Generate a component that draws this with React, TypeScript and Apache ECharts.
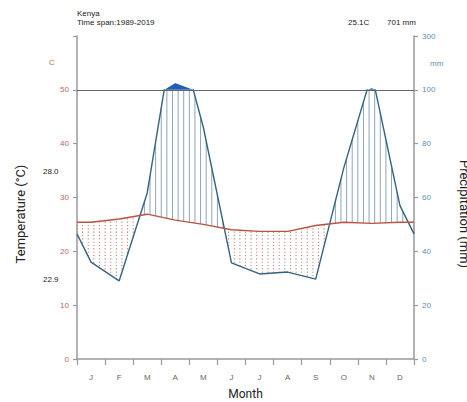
import React, { useEffect, useRef } from "react";
import * as echarts from "echarts";

const MONTHS = ["Jan", "Feb", "Mar", "Apr", "May", "Jun", "Jul", "Aug", "Sep", "Oct", "Nov", "Dec"];
const MONTH_LABELS = ["J", "F", "M", "A", "M", "J", "J", "A", "S", "O", "N", "D"];
const TEMP = [25.4, 26.0, 26.9, 25.8, 25.0, 24.0, 23.7, 23.7, 24.8, 25.4, 25.2, 25.4];
const PRECIP = [36, 29, 61.7, 125, 86, 35.7, 31.6, 32.3, 29.7, 71, 106, 57];
const HEADER_LINES = ["Kenya", "Time span:1989-2019"];
const MEAN_TEMP_LABEL = "25.1C";
const TOTAL_PRECIP_LABEL = "701 mm";
const MAX_TEMP_LABEL = "28.0";
const MIN_TEMP_LABEL = "22.9";

const FONT = "'Liberation Sans', Arial, sans-serif";
const TITLE_FONT = "Roboto, 'Open Sans', sans-serif";
const TEMP_COLOR = "#b85443";
const PRECIP_COLOR = "#34637f";
const HATCH_COLOR = "#8ea5b9";
const DOT_COLOR = "#c37a6c";
const WET_FILL = "#1f5fb4";
const AXIS_COLOR = "#9a9a9a";

const ext = (a: number[]) => {
  const e = (a[0] + a[a.length - 1]) / 2;
  return [e, ...a, e];
};
const XS = [0, ...MONTHS.map((_, i) => i + 0.5), MONTHS.length];
const TE = ext(TEMP);
const PE = ext(PRECIP);

function interp(arr: number[], x: number) {
  for (let i = 0; i < XS.length - 1; i++) {
    if (x >= XS[i] && x <= XS[i + 1]) {
      const f = (x - XS[i]) / (XS[i + 1] - XS[i]);
      return arr[i] + f * (arr[i + 1] - arr[i]);
    }
  }
  return arr[arr.length - 1];
}

export default function App() {
  const ref = useRef<HTMLDivElement>(null);
  useEffect(() => {
    if (!ref.current) return;
    const chart = echarts.init(ref.current, null, { renderer: "svg" });
    const gridTop = 36;
    const gridBottom = 43;
    const gridH = 402 - gridTop - gridBottom;
    const top50 = gridTop + (gridH * 10) / 60;

    const renderItem = (params: any, api: any) => {
      const children: any[] = [];
      const pts: number[][] = [];
      for (let i = 0; i <= 1200; i++) {
        const x = i / 100;
        const p = interp(PE, x);
        const y = p > 100 ? 50 + (p - 100) / 20 : 50;
        pts.push(api.coord([x, y]));
      }
      children.push({ type: "polygon", shape: { points: pts }, style: { fill: WET_FILL } });
      for (let k = 0; k <= 60; k++) {
        const x = k * 0.2;
        const t = interp(TE, x);
        const p = interp(PE, x) / 2;
        if (p > t) {
          const a = api.coord([x, t]);
          const b = api.coord([x, Math.min(p, 50)]);
          children.push({
            type: "line",
            shape: { x1: a[0], y1: a[1], x2: b[0], y2: b[1] },
            style: { stroke: HATCH_COLOR, lineWidth: 1 },
          });
        } else {
          const step = 0.62;
          for (let j = Math.ceil(p / step); j * step < t; j++) {
            const c = api.coord([x, j * step]);
            children.push({
              type: "rect",
              shape: { x: c[0] - 0.55, y: c[1] - 0.55, width: 1.1, height: 1.1 },
              style: { fill: DOT_COLOR },
            });
          }
        }
      }
      return { type: "group", children };
    };

    chart.setOption({
      animation: false,
      backgroundColor: "#fff",
      grid: [
        { left: 77, right: 53, top: gridTop, bottom: gridBottom, outerBoundsMode: "none", containLabel: false },
        { left: 77, right: 53, top: top50, bottom: gridBottom, outerBoundsMode: "none", containLabel: false },
      ],
      xAxis: [
        {
          type: "category",
          gridIndex: 0,
          data: MONTHS,
          boundaryGap: true,
          axisLine: { lineStyle: { color: AXIS_COLOR, width: 1.5 } },
          axisTick: { show: true, length: 6, lineStyle: { color: AXIS_COLOR, width: 1.2 } },
          axisLabel: {
            formatter: (_v: string, i: number) => MONTH_LABELS[i],
            color: "#666",
            fontSize: 8,
            fontFamily: FONT,
            margin: 14,
          },
          name: "Month",
          nameLocation: "middle",
          nameGap: 29,
          nameTextStyle: { fontSize: 12, color: "#222", fontFamily: TITLE_FONT },
        },
        { type: "value", gridIndex: 0, min: 0, max: 12, show: false },
        { type: "value", gridIndex: 1, min: 0, max: 12, show: false },
      ],
      yAxis: [
        {
          type: "value",
          gridIndex: 0,
          position: "left",
          min: 0,
          max: 60,
          interval: 10,
          axisLine: { show: true, lineStyle: { color: AXIS_COLOR, width: 1.5 } },
          axisTick: { show: true, length: 4, lineStyle: { color: AXIS_COLOR, width: 1.2 } },
          axisLabel: {
            formatter: (v: number) => (v === 60 ? "" : String(v)),
            color: "#b86a5e",
            fontSize: 8,
            fontFamily: FONT,
            margin: 8,
          },
          splitLine: { show: false },
        },
        {
          type: "value",
          gridIndex: 0,
          position: "right",
          min: 0,
          max: 120,
          interval: 20,
          axisLine: { show: true, lineStyle: { color: AXIS_COLOR, width: 1.5 } },
          axisTick: { show: true, length: 4, lineStyle: { color: AXIS_COLOR, width: 1.2 } },
          axisLabel: {
            formatter: (v: number) => (v === 120 ? "300" : String(v)),
            color: "#5b8fb5",
            fontSize: 8,
            fontFamily: FONT,
            margin: 8,
          },
          splitLine: { show: false },
        },
        { type: "value", gridIndex: 1, min: 0, max: 50, show: false },
      ],
      graphic: [
        ...HEADER_LINES.map((t, i) => ({
          type: "text",
          left: 77,
          top: 9 + i * 9,
          style: { text: t, fontSize: 8, fontFamily: FONT, fill: "#222" },
        })),
        { type: "text", left: 348, top: 18, style: { text: MEAN_TEMP_LABEL, fontSize: 8, fontFamily: FONT, fill: "#222" } },
        { type: "text", left: 387, top: 18, style: { text: TOTAL_PRECIP_LABEL, fontSize: 8, fontFamily: FONT, fill: "#222" } },
        { type: "text", left: 43, top: 167, style: { text: MAX_TEMP_LABEL, fontSize: 8, fontFamily: FONT, fill: "#222" } },
        { type: "text", left: 43, top: 275, style: { text: MIN_TEMP_LABEL, fontSize: 8, fontFamily: FONT, fill: "#222" } },
        { type: "text", left: 49, top: 58, style: { text: "C", fontSize: 8, fontFamily: FONT, fill: "#b86a5e" } },
        { type: "text", left: 430, top: 59, style: { text: "mm", fontSize: 8, fontFamily: FONT, fill: "#5b8fb5" } },
        {
          type: "text",
          x: 20,
          y: 214,
          rotation: Math.PI / 2,
          style: { text: "Temperature (°C)", fontSize: 13, fontFamily: TITLE_FONT, fill: "#222", align: "center", verticalAlign: "middle" },
        },
        {
          type: "text",
          x: 464,
          y: 214,
          rotation: -Math.PI / 2,
          style: { text: "Precipitation (mm)", fontSize: 13, fontFamily: TITLE_FONT, fill: "#222", align: "center", verticalAlign: "middle" },
        },
      ],
      series: [
        {
          type: "custom",
          xAxisIndex: 1,
          yAxisIndex: 0,
          data: [[0, 0]],
          renderItem,
          silent: true,
          z: 1,
        },
        {
          type: "line",
          xAxisIndex: 2,
          yAxisIndex: 2,
          data: XS.map((x, i) => [x, PE[i] / 2]),
          symbol: "none",
          lineStyle: { color: PRECIP_COLOR, width: 1.4 },
          z: 3,
        },
        {
          type: "line",
          xAxisIndex: 1,
          yAxisIndex: 0,
          data: XS.map((x, i) => [x, TE[i]]),
          symbol: "none",
          lineStyle: { color: TEMP_COLOR, width: 1.4 },
          z: 4,
          markLine: {
            silent: true,
            symbol: "none",
            label: { show: false },
            lineStyle: { color: "#666", width: 1, type: "solid" },
            data: [{ yAxis: 50 }],
          },
        },
      ],
    });
    return () => chart.dispose();
  }, []);
  return (
    <div
      ref={ref}
      style={{ position: "absolute", left: 0, top: 0, width: 467, height: 402, background: "#fff" }}
    />
  );
}
